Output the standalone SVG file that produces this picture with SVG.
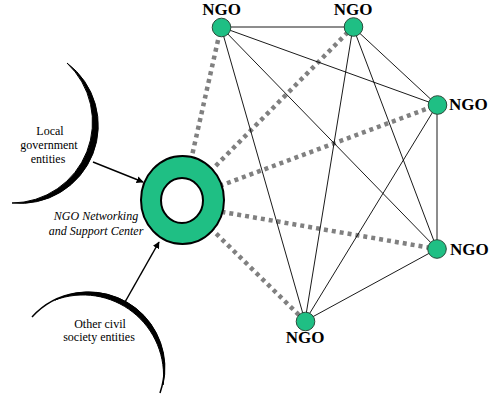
<svg xmlns="http://www.w3.org/2000/svg" width="495" height="403" viewBox="0 0 495 403">
<style>
.dash{stroke:#808080;stroke-width:4.5;stroke-dasharray:4 4;fill:none}
.link{stroke:#000;stroke-width:0.9;fill:none}
.ngo{fill:#1fbf84;stroke:#2a4a3a;stroke-width:1}
.lbl{font-family:"Liberation Serif","Times New Roman",Times,serif;font-weight:bold;font-size:17px;fill:#000}
.txt{font-family:"Liberation Serif","Times New Roman",Times,serif;font-size:12px;fill:#000;text-anchor:middle}
.it{font-style:italic}
.arr{stroke:#000;stroke-width:1.5;fill:none;marker-end:url(#ah)}
.cres{fill:#000;stroke:#000;stroke-width:1}
.thin{fill:none;stroke:#000;stroke-width:1.5}
</style>
<defs>
<marker id="ah" viewBox="0 0 10 10" refX="9" refY="5" markerWidth="7" markerHeight="7" markerUnits="userSpaceOnUse" orient="auto">
<path d="M0,0 L10,5 L0,10 Z" fill="#000"/>
</marker>
</defs>
<rect width="495" height="403" fill="#fff"/>
<g id="local-government">
<path class="cres" d="M67,63 A78,78 0 0 1 12,203 A81,81 0 0 0 67,63 Z"/>
<text class="txt" x="50" y="135">Local</text>
<text class="txt" x="49" y="149">government</text>
<text class="txt" x="48" y="163">entities</text>
</g>
<g id="civil-society">
<path class="thin" d="M32,317 A76,76 0 0 1 160,393"/>
<path class="cres" d="M55,300 A76,76 0 0 1 163,385 A80.5,80.5 0 0 0 55,300 Z"/>
<text class="txt" x="100" y="328">Other civil</text>
<text class="txt" x="99" y="341">society entities</text>
</g>
<g id="connectors">
<line class="dash" x1="182" y1="200" x2="221" y2="27"/>
<line class="dash" x1="182" y1="200" x2="353" y2="27"/>
<line class="dash" x1="182" y1="200" x2="437" y2="105"/>
<line class="dash" x1="182" y1="205" x2="437" y2="249"/>
<line class="dash" x1="182" y1="200" x2="305" y2="321"/>
<line class="link" x1="221" y1="27" x2="353" y2="27"/>
<line class="link" x1="221" y1="27" x2="437" y2="105"/>
<line class="link" x1="221" y1="27" x2="437" y2="249"/>
<line class="link" x1="221" y1="27" x2="305" y2="321"/>
<line class="link" x1="353" y1="27" x2="437" y2="105"/>
<line class="link" x1="353" y1="27" x2="437" y2="249"/>
<line class="link" x1="353" y1="27" x2="305" y2="321"/>
<line class="link" x1="437" y1="105" x2="437" y2="249"/>
<line class="link" x1="437" y1="105" x2="305" y2="321"/>
<line class="link" x1="437" y1="249" x2="305" y2="321"/>
<line class="arr" x1="93" y1="162" x2="143" y2="182"/>
<line class="arr" x1="125" y1="302" x2="159" y2="242"/>
</g>
<g id="center">
<ellipse cx="182.5" cy="200" rx="41.5" ry="44" fill="#1fbf84" stroke="#000" stroke-width="2"/>
<ellipse cx="182" cy="200.5" rx="21" ry="22.5" fill="#fff" stroke="#000" stroke-width="2"/>
<text class="txt it" x="96" y="220">NGO Networking</text>
<text class="txt it" x="96" y="235">and Support Center</text>
</g>
<g id="ngo1"><circle class="ngo" cx="221.5" cy="27.5" r="9.3"/><text class="lbl" x="221.5" y="15" text-anchor="middle">NGO</text></g>
<g id="ngo2"><circle class="ngo" cx="353.5" cy="27" r="9.3"/><text class="lbl" x="353" y="15" text-anchor="middle">NGO</text></g>
<g id="ngo3"><circle class="ngo" cx="437.5" cy="105" r="9.3"/><text class="lbl" x="449" y="110">NGO</text></g>
<g id="ngo4"><circle class="ngo" cx="437" cy="249" r="9.3"/><text class="lbl" x="450" y="255">NGO</text></g>
<g id="ngo5"><circle class="ngo" cx="305.5" cy="321.5" r="9.3"/><text class="lbl" x="305" y="343" text-anchor="middle">NGO</text></g>
</svg>
